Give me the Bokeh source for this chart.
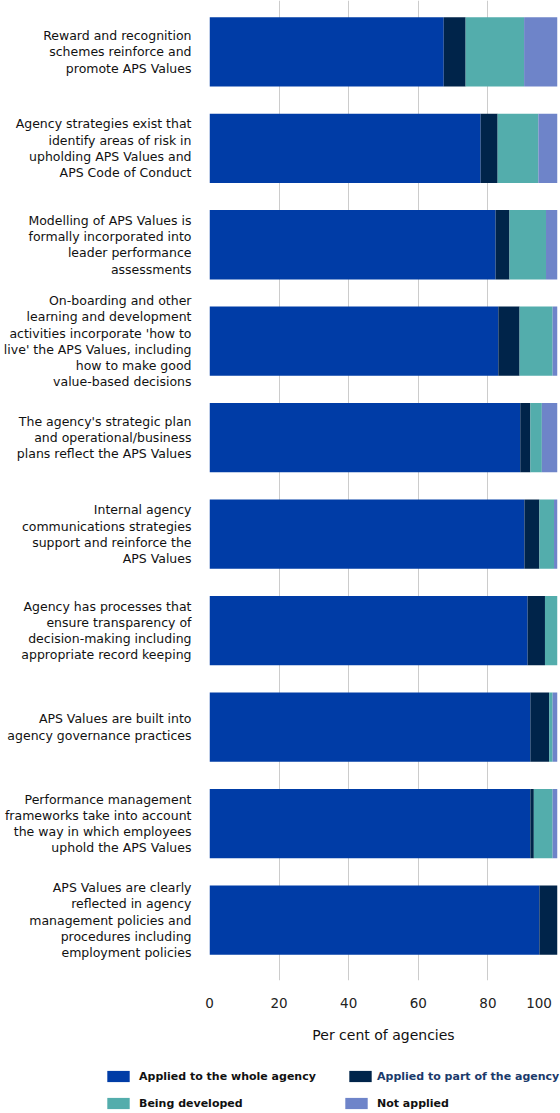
from bokeh.plotting import figure
from bokeh.layouts import column
from bokeh.models import ColumnDataSource, Range1d, FixedTicker, Legend, LegendItem
from bokeh.embed import file_html
from bokeh.resources import INLINE

# ---- data ----
categories = [
    "Reward and recognition\nschemes reinforce and\npromote APS Values",
    "Agency strategies exist that\nidentify areas of risk in\nupholding APS Values and\nAPS Code of Conduct",
    "Modelling of APS Values is\nformally incorporated into\nleader performance\nassessments",
    "On-boarding and other\nlearning and development\nactivities incorporate 'how to\nlive' the APS Values, including\nhow to make good\nvalue-based decisions",
    "The agency's strategic plan\nand operational/business\nplans reflect the APS Values",
    "Internal agency\ncommunications strategies\nsupport and reinforce the\nAPS Values",
    "Agency has processes that\nensure transparency of\ndecision-making including\nappropriate record keeping",
    "APS Values are built into\nagency governance practices",
    "Performance management\nframeworks take into account\nthe way in which employees\nuphold the APS Values",
    "APS Values are clearly\nreflected in agency\nmanagement policies and\nprocedures including\nemployment policies",
]
whole = [67.3, 77.9, 82.2, 83.0, 89.3, 90.5, 91.4, 92.2, 92.2, 94.8]
part = [6.3, 4.9, 4.0, 6.1, 2.9, 4.3, 5.0, 5.4, 1.0, 5.2]
developing = [16.8, 11.7, 10.5, 9.5, 3.3, 4.2, 3.6, 1.0, 5.4, 0.0]
not_applied = [9.6, 5.5, 3.3, 1.4, 4.5, 1.0, 0.0, 1.4, 1.4, 0.0]

series_names = ["Applied to the whole agency", "Applied to part of the agency",
                "Being developed", "Not applied"]
series_keys = ["whole", "part", "developing", "not_applied"]
colors = ["#003CA6", "#00244A", "#53ADAC", "#6E84C9"]
x_ticks = [0, 20, 40, 60, 80, 100]
x_tick_labels = ["0", "20", "40", "60", "80", "100"]

FONT = "DejaVu Sans"

pos = list(range(len(categories)))
source = ColumnDataSource(dict(y=pos, whole=whole, part=part,
                               developing=developing, not_applied=not_applied))

p = figure(width=560, height=1058, output_backend="svg", toolbar_location=None,
           x_range=Range1d(0, 100), y_range=Range1d(9.627, -0.532),
           min_border_left=209, min_border_right=3, min_border_top=0,
           min_border_bottom=78)
p.outline_line_color = None
p.background_fill_color = "white"

renderers = p.hbar_stack(series_keys, y="y", height=0.718, color=colors,
                         line_color=None, source=source)

# axes
p.yaxis.ticker = FixedTicker(ticks=pos)
p.yaxis.major_label_overrides = {i: c for i, c in zip(pos, categories)}
p.yaxis.axis_line_color = None
p.yaxis.major_tick_line_color = None
p.yaxis.major_tick_out = 0
p.yaxis.major_tick_in = 0
p.yaxis.minor_tick_line_color = None
p.yaxis.major_label_standoff = 18
p.yaxis.major_label_text_font = FONT
p.yaxis.major_label_text_font_size = "12.5px"
p.yaxis.major_label_text_color = "#111111"
p.yaxis.major_label_text_line_height = 1.08

p.xaxis.ticker = FixedTicker(ticks=x_ticks)
p.xaxis.major_label_overrides = {t: (l if t < 100 else l + "\u00a0" * 2)
                                 for t, l in zip(x_ticks, x_tick_labels)}
p.xaxis.axis_line_color = None
p.xaxis.major_tick_line_color = None
p.xaxis.major_tick_out = 0
p.xaxis.major_tick_in = 0
p.xaxis.minor_tick_line_color = None
p.xaxis.major_label_standoff = 14
p.xaxis.major_label_text_font = FONT
p.xaxis.major_label_text_font_size = "13.5px"
p.xaxis.major_label_text_color = "#222222"
p.xaxis.axis_label = "Per cent of agencies"
p.xaxis.axis_label_text_font = FONT
p.xaxis.axis_label_text_font_size = "14px"
p.xaxis.axis_label_text_font_style = "normal"
p.xaxis.axis_label_text_color = "#111111"
p.xaxis.axis_label_standoff = 13

p.ygrid.grid_line_color = None
p.xgrid.ticker = FixedTicker(ticks=x_ticks)
p.xgrid.grid_line_color = "#cccccc"
p.xgrid.grid_line_width = 1

# ---- legend strip below the chart ----
lp = figure(width=560, height=55, output_backend="svg", toolbar_location=None,
            x_range=Range1d(0, 100), y_range=Range1d(100, 101),
            min_border_left=0, min_border_right=0, min_border_top=0,
            min_border_bottom=0)
try:
    lp.frame_align = False
except Exception:
    pass
lp.axis.visible = False
lp.grid.visible = False
lp.outline_line_color = None
legend_renderers = lp.hbar_stack(series_keys, y="y", height=0.718, color=colors,
                                 line_color=None, source=source)

legend_locs = [(104, 30), (346, 30), (104, 3), (342, 3)]
legend_standoffs = [7, 3, 7, 7]
legend_text_colors = ["#111111", "#1B3A6B", "#111111", "#111111"]
for name, r, loc, so, tc in zip(series_names, legend_renderers, legend_locs,
                                legend_standoffs, legend_text_colors):
    lg = Legend(items=[LegendItem(label=name, renderers=[r])], location=loc,
                padding=0, margin=0, spacing=0, border_line_color=None,
                background_fill_alpha=0, glyph_width=28, glyph_height=14,
                label_height=14, label_standoff=so,
                label_text_font=FONT, label_text_font_size="11px",
                label_text_font_style="bold", label_text_color=tc)
    lp.add_layout(lg, "center")

layout = column(p, lp, spacing=0)
open("out.html", "w").write(file_html(layout, INLINE))
